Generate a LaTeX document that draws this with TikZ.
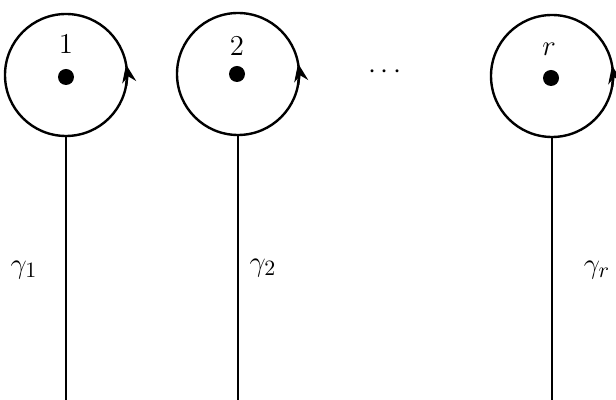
\documentclass[tikz,border=0pt]{standalone}
\usetikzlibrary{arrows.meta}
\begin{document}
\begin{tikzpicture}[x=0.5pt,y=-0.5pt,
  loop/.style={circle,draw,line width=1.2pt,minimum size=61pt,inner sep=0pt},
  pt/.style={circle,fill,minimum size=8pt,inner sep=0pt},
  lbl/.style={font=\fontsize{15}{17}\selectfont},
  path/.style={line width=1.1pt},
  arr/.style={line width=1.2pt,-{Stealth[length=9pt,width=7pt]}}]
\useasboundingbox (0,0) rectangle (616,400);
% circles
\node[loop] (c1) at (66,75) {};
\node[loop] (c2) at (238,74) {};
\node[loop] (c3) at (552,76) {};
% punctures
\node[pt] (p1) at (66,77) {};
\node[pt] (p2) at (237,74) {};
\node[pt] (p3) at (551,78) {};
% labels of punctures
\node[lbl] (n1) at (66,44) {$1$};
\node[lbl] (n2) at (237,46) {$2$};
\node[lbl] (n3) at (549,49) {$r$};
\node[lbl] (dots) at (385,72) {$\cdots$};
% orientation arrows
\draw[arr] (c1.center) ++(10:61) arc[start angle=10,end angle=-10,radius=61];
\draw[arr] (c2.center) ++(10:61) arc[start angle=10,end angle=-10,radius=61];
\draw[arr] (c3.center) ++(10:61) arc[start angle=10,end angle=-10,radius=61];
% paths to base
\coordinate (b1) at (66,400);
\coordinate (b2) at (238,400);
\coordinate (b3) at (552,400);
\draw[path] (c1.south) -- (b1);
\draw[path] (c2.south) -- (b2);
\draw[path] (c3.south) -- (b3);
% path labels
\node[lbl] (g1) at (24,270) {$\gamma_1$};
\node[lbl] (g2) at (263,268) {$\gamma_2$};
\node[lbl] (g3) at (597,270) {$\gamma_r$};
\end{tikzpicture}
\end{document}
